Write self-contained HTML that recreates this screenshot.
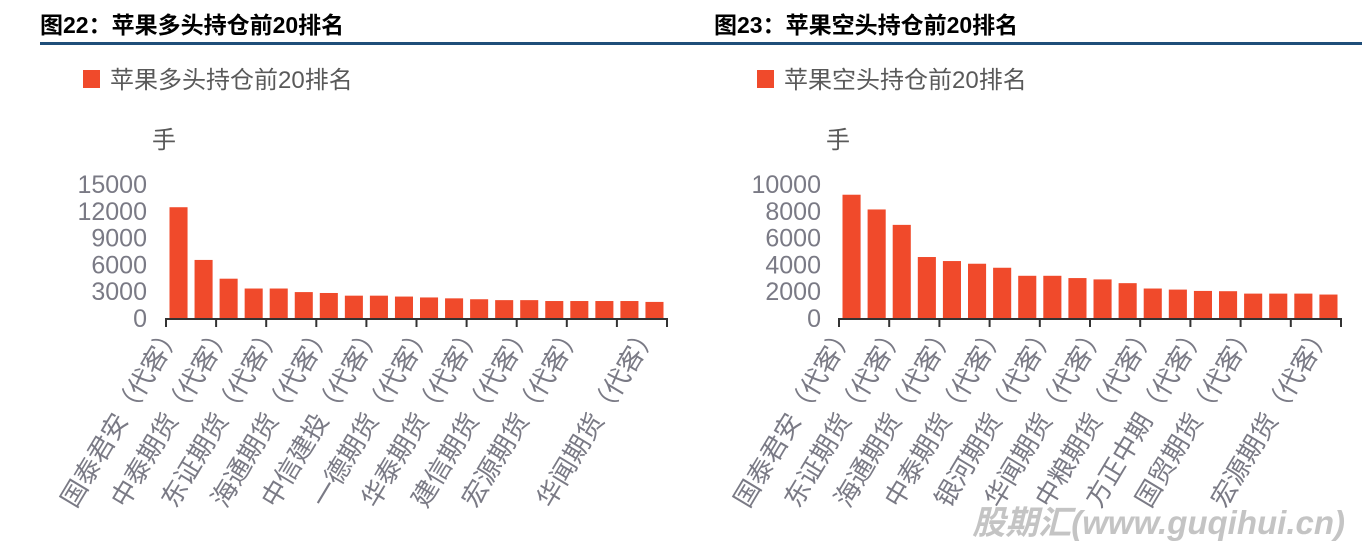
<!DOCTYPE html>
<html><head><meta charset="utf-8"><style>
html,body{margin:0;padding:0;background:#fff;}
svg{display:block;}
text{font-family:"Liberation Sans","Noto Sans CJK SC",sans-serif;}
</style></head><body>
<svg width="1362" height="552" viewBox="0 0 1362 552" xmlns="http://www.w3.org/2000/svg">
<rect width="1362" height="552" fill="#fff"/>
<text x="40" y="33" font-size="23" font-weight="bold" fill="#000">图22：苹果多头持仓前20排名</text>
<text x="714" y="33" font-size="23" font-weight="bold" fill="#000">图23：苹果空头持仓前20排名</text>
<rect x="40" y="42" width="1322" height="3" fill="#1f4e79"/>
<g id="L"></g>
<g id="R"></g>
<text x="1345" y="534" text-anchor="end" font-size="33" font-weight="bold" font-style="italic" fill="#c4c4c4">股期汇(www.guqihui.cn)</text>
</svg>
<script>
function chart(id,ox,axL,axR,maxV,step,vals,labels,legend){
 const g=document.getElementById(id);
 let h='';
 h+=`<rect x="${ox+43}" y="70" width="17" height="18" fill="#f04a2b"/>`;
 h+=`<text x="${ox+70}" y="88" font-size="24" fill="#595959">${legend}</text>`;
 h+=`<text x="${ox+112}" y="148" font-size="24" fill="#595959">手</text>`;
 const base=318,top=184,scale=(base-top)/maxV;
 for(let v=0;v<=maxV;v+=step){const y=base-v*scale;h+=`<text x="${ox+107}" y="${y+9}" text-anchor="end" font-size="25" fill="#7a7a85">${v}</text>`;}
 const slot=(axR-axL)/20;
 vals.forEach((v,i)=>{const x=axL+slot*i+3.5;const hh=v*scale;h+=`<rect x="${x}" y="${base-hh}" width="${slot-7}" height="${hh}" fill="#f04a2b"/>`;});
 h+=`<line x1="${axL}" y1="${base+1}" x2="${axR}" y2="${base+1}" stroke="#333" stroke-width="2"/>`;
 for(let i=0;i<=10;i++){const x=axL+slot*2*i;h+=`<line x1="${x}" y1="${base}" x2="${x}" y2="${base+9}" stroke="#333" stroke-width="2"/>`;}
 labels.forEach(([i,t])=>{const cx=axL+slot*(i+0.5)+4;h+=`<text transform="translate(${cx},331) rotate(-59)" text-anchor="end" font-size="26" fill="#7a7a85">${t}</text>`;});
 g.innerHTML=h;
}
chart('L',40,166,667,15000,3000,[12400,6500,4400,3300,3300,2900,2800,2500,2500,2400,2300,2200,2100,2000,2000,1900,1900,1900,1900,1800],
[[0,'国泰君安（代客）'],[2,'中泰期货（代客）'],[4,'东证期货（代客）'],[6,'海通期货（代客）'],[8,'中信建投（代客）'],[10,'一德期货（代客）'],[12,'华泰期货（代客）'],[14,'建信期货（代客）'],[16,'宏源期货（代客）'],[19,'华闻期货（代客）']],'苹果多头持仓前20排名');
chart('R',714,839,1341,10000,2000,[9200,8100,6950,4550,4250,4050,3750,3150,3150,2980,2880,2600,2200,2120,2020,2000,1820,1820,1820,1750],
[[0,'国泰君安（代客）'],[2,'东证期货（代客）'],[4,'海通期货（代客）'],[6,'中泰期货（代客）'],[8,'银河期货（代客）'],[10,'华闻期货（代客）'],[12,'中粮期货（代客）'],[14,'方正中期（代客）'],[16,'国贸期货（代客）'],[19,'宏源期货（代客）']],'苹果空头持仓前20排名');
</script>
</body></html>
